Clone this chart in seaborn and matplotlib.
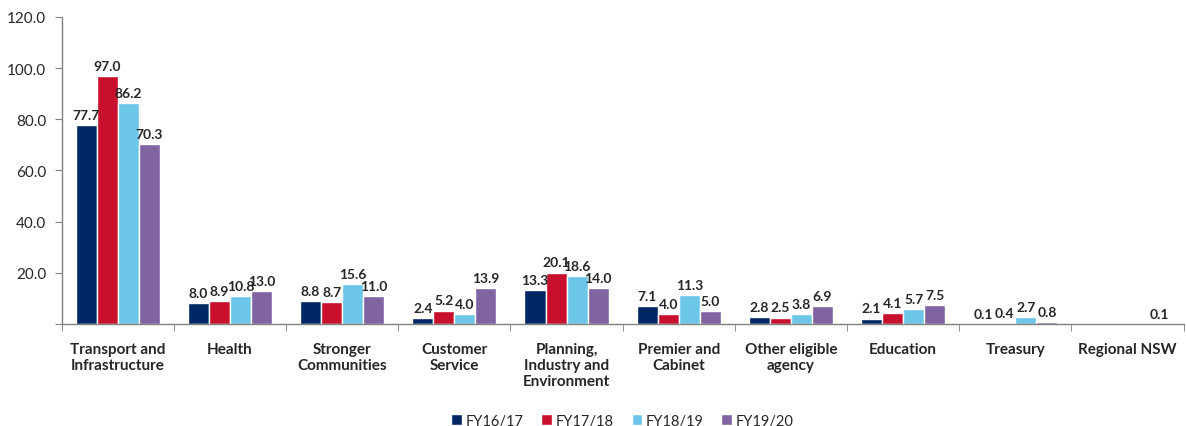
import numpy as np
import pandas as pd
import seaborn as sns
import matplotlib.pyplot as plt
from matplotlib.ticker import FixedLocator, FuncFormatter

categories = ["Transport and\nInfrastructure", "Health", "Stronger\nCommunities",
              "Customer\nService", "Planning,\nIndustry and\nEnvironment",
              "Premier and\nCabinet", "Other eligible\nagency", "Education",
              "Treasury", "Regional NSW"]
years = ["FY16/17", "FY17/18", "FY18/19", "FY19/20"]
fy1617 = [77.7, 8.0, 8.8, 2.4, 13.3, 7.1, 2.8, 2.1, 0.1, np.nan]
fy1718 = [97.0, 8.9, 8.7, 5.2, 20.1, 4.0, 2.5, 4.1, 0.4, np.nan]
fy1819 = [86.2, 10.8, 15.6, 4.0, 18.6, 11.3, 3.8, 5.7, 2.7, np.nan]
fy1920 = [70.3, 13.0, 11.0, 13.9, 14.0, 5.0, 6.9, 7.5, 0.8, 0.1]
colors = ["#002664", "#C8102E", "#6CC6E8", "#8064A2"]

rows = []
for yr, vals in zip(years, [fy1617, fy1718, fy1819, fy1920]):
    for cat, v in zip(categories, vals):
        rows.append({"agency": cat, "year": yr, "value": v})
df = pd.DataFrame(rows)

sns.set_style("white")
plt.rcParams['font.family'] = ['Lato', 'DejaVu Sans']

fig = plt.figure(figsize=(11.86, 4.27), dpi=100)
ax = fig.add_axes([0.052, 0.239, 0.946, 0.719])
sns.barplot(data=df, x="agency", y="value", hue="year", order=categories,
            hue_order=years, palette=colors, width=0.75, saturation=1,
            ax=ax, legend=True)

for cont in ax.containers:
    labels = ["" if np.isnan(v) else f"{v:.1f}" for v in cont.datavalues]
    ax.bar_label(cont, labels=labels, padding=3, fontsize=10, fontweight="bold")

ax.set_ylim(0, 120)
ax.set_xlim(-0.5, len(categories) - 0.5)
ax.yaxis.set_major_locator(FixedLocator([0, 20, 40, 60, 80, 100, 120]))
ax.yaxis.set_major_formatter(FuncFormatter(lambda v, p: "" if v == 0 else f"{v:.1f}"))
ax.set_xlabel("")
ax.set_ylabel("")
ax.set_xticks(range(len(categories)))
ax.set_xticklabels(categories, fontweight="bold", fontsize=11, va="top")
ax.xaxis.set_minor_locator(FixedLocator(np.arange(-0.5, len(categories), 1.0)))
ax.tick_params(axis="x", which="major", length=0, pad=13)
ax.tick_params(axis="x", which="minor", length=5, color="#808080", direction="out", bottom=True)
ax.tick_params(axis="y", length=5, color="#808080", direction="out", left=True, labelsize=11, pad=6)

for s in ["top", "right"]:
    ax.spines[s].set_visible(False)
for s in ["left", "bottom"]:
    ax.spines[s].set_color("#808080")
    ax.spines[s].set_linewidth(1)

handles, lbls = ax.get_legend_handles_labels()
ax.legend(handles, lbls, loc="center", bbox_to_anchor=(0.5, -0.315), ncol=4,
          frameon=False, fontsize=10.5, handlelength=0.7, handleheight=0.7,
          handletextpad=0.3, columnspacing=1.2, bbox_transform=ax.transAxes)

fig.savefig("out.png", dpi=100)
